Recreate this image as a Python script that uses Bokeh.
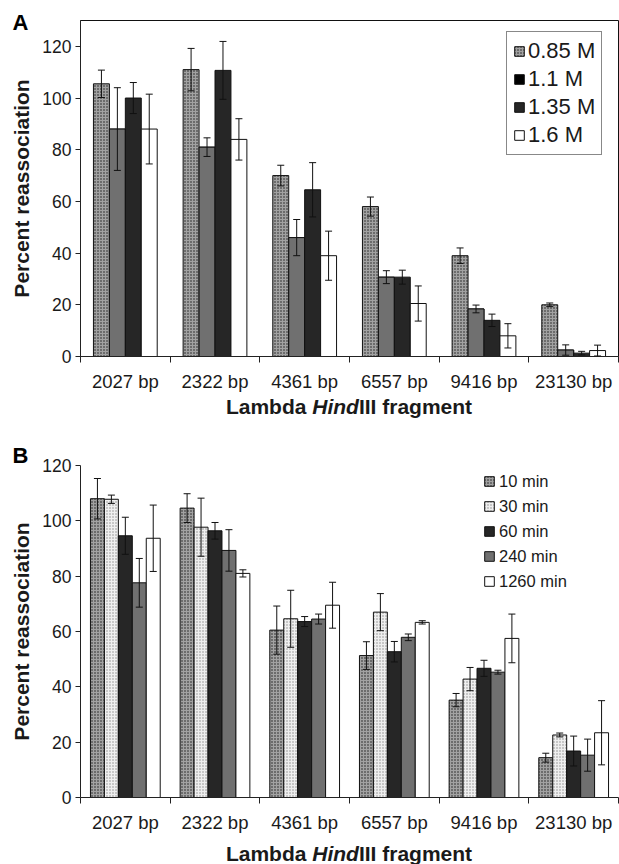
from bokeh.plotting import figure
from bokeh.models import (FactorRange, Range1d, LinearAxis, FixedTicker, ColumnDataSource,
                          Whisker, TeeHead, Legend, LegendItem, Div, Title)
from bokeh.transform import dodge
from bokeh.layouts import column
from bokeh.embed import file_html
from bokeh.resources import INLINE

# ---------------- data ----------------
fragments = ["2027 bp", "2322 bp", "4361 bp", "6557 bp", "9416 bp", "23130 bp"]

# Panel A: salt concentration
salt_labels = ["0.85 M", "1.1 M", "1.35 M", "1.6 M"]
salt_085 = [105.5, 111.0, 70.0, 58.0, 39.0, 20.0]
salt_085_err = [5.3, 8.2, 4.0, 3.7, 3.0, 0.7]
salt_110 = [88.0, 81.0, 46.0, 30.7, 18.4, 2.5]
salt_110_err = [16.0, 3.6, 7.0, 2.5, 1.5, 2.0]
salt_135 = [100.0, 110.7, 64.5, 30.7, 14.0, 1.3]
salt_135_err = [6.0, 11.2, 10.5, 2.7, 2.4, 0.7]
salt_160 = [88.0, 84.0, 39.0, 20.5, 8.0, 2.3]
salt_160_err = [13.5, 8.0, 9.5, 6.8, 4.7, 2.1]

# Panel B: incubation time
time_labels = ["10 min", "30 min", "60 min", "240 min", "1260 min"]
time_10 = [108.0, 104.6, 60.5, 51.3, 35.2, 14.4]
time_10_err = [7.3, 5.2, 8.7, 5.0, 2.4, 1.6]
time_30 = [107.8, 97.7, 64.6, 67.0, 42.8, 22.6]
time_30_err = [1.5, 10.5, 10.3, 6.7, 4.2, 0.7]
time_60 = [94.6, 96.4, 63.6, 52.7, 46.7, 16.8]
time_60_err = [6.7, 3.0, 1.8, 3.7, 2.9, 5.4]
time_240 = [77.6, 89.3, 64.5, 57.9, 45.3, 15.3]
time_240_err = [8.8, 7.5, 1.8, 1.2, 0.7, 5.8]
time_1260 = [93.7, 81.0, 69.5, 63.3, 57.5, 23.4]
time_1260_err = [12.0, 1.3, 8.3, 0.6, 8.8, 11.6]

y_ticks = [0, 20, 40, 60, 80, 100, 120]

FONT = "Liberation Sans"
TXT = "#1a1a1a"
W = 619
LEFT = 80
RIGHT = 1

CHECKER = dict(fill_color="#a2a2a2", hatch_pattern="dot", hatch_scale=3, hatch_weight=1, hatch_color="#1a1a1a")
LIGHTDOT = dict(fill_color="#efefef", hatch_pattern="dot", hatch_scale=3, hatch_weight=1, hatch_color="#8c8c8c")
GRAY = dict(fill_color="#707070")
DARK = dict(fill_color="#262626")
WHITE = dict(fill_color="white")
BLACK = dict(fill_color="black")


def base_fig(height, top, bottom, ymax):
    p = figure(width=W, height=height,
               x_range=FactorRange(factors=fragments, range_padding=0, factor_padding=0),
               y_range=Range1d(0, ymax), x_axis_type=None,
               output_backend="svg", toolbar_location=None,
               min_border_left=LEFT, min_border_right=RIGHT,
               min_border_top=top, min_border_bottom=bottom)
    p.background_fill_color = "white"
    p.border_fill_color = "white"
    p.xgrid.visible = False
    ya = p.yaxis[0]
    ya.ticker = FixedTicker(ticks=y_ticks)
    ya.axis_label = "Percent reassociation"
    ya.axis_label_text_font = FONT
    ya.axis_label_text_font_size = "21px"
    ya.axis_label_text_font_style = "bold"
    ya.axis_label_text_color = TXT
    ya.axis_label_standoff = 6
    ya.major_label_text_font = FONT
    ya.major_label_text_font_size = "17.5px"
    ya.major_label_text_color = TXT
    ya.major_label_standoff = 4
    ya.major_tick_out = 5
    ya.major_tick_in = 0
    ya.minor_tick_out = 0
    ya.minor_tick_in = 0
    ya.axis_line_color = "#222222"
    ya.major_tick_line_color = "#222222"
    # x axis: labels at category centres, ticks at category boundaries
    xa = LinearAxis(ticker=FixedTicker(ticks=[i + 0.5 for i in range(len(fragments))],
                                       minor_ticks=list(range(len(fragments) + 1))),
                    major_label_overrides={i + 0.5: f for i, f in enumerate(fragments)})
    xa.major_tick_out = 0
    xa.major_tick_in = 0
    xa.minor_tick_out = 6
    xa.minor_tick_in = 0
    xa.major_label_text_font = FONT
    xa.major_label_text_font_size = "18.5px"
    xa.major_label_text_color = TXT
    xa.major_label_standoff = 8
    xa.axis_line_color = "#222222"
    xa.minor_tick_line_color = "#222222"
    p.add_layout(xa, "below")
    return p


def xtitle_div(height, pad_top):
    html = ('<div style="margin-left:%dpx;width:%dpx;padding-top:%dpx;text-align:center;'
            'font-family:\'Liberation Sans\',Arial,sans-serif;font-size:21px;font-weight:bold;'
            'line-height:22px;color:%s;white-space:nowrap">'
            'Lambda <i>Hind</i>III fragment</div>') % (LEFT, W - LEFT - RIGHT, pad_top, TXT)
    return Div(text=html, width=W, height=height, margin=0)


def add_series(p, vals, errs, off, width, style, whiskers=True):
    src = ColumnDataSource(dict(frag=fragments, val=vals,
                                up=[v + e for v, e in zip(vals, errs)],
                                lo=[v - e for v, e in zip(vals, errs)]))
    r = p.vbar(x=dodge("frag", off, range=p.x_range), top="val", width=width, source=src,
               line_color="#111111", line_width=1, **style)
    if whiskers:
        wh = Whisker(base=dodge("frag", off, range=p.x_range), upper="up", lower="lo", source=src,
                     line_color="#111111", line_width=1, level="overlay",
                     upper_head=TeeHead(size=7, line_color="#111111", line_width=1),
                     lower_head=TeeHead(size=7, line_color="#111111", line_width=1))
        p.add_layout(wh)
    return r


def letter(txt, standoff):
    return Title(text=txt, align="left", offset=12 - LEFT, standoff=standoff,
                 text_font=FONT, text_font_size="22px", text_font_style="bold",
                 text_color="black")


# ---------------- Panel A ----------------
pA = base_fig(396, 20, 40, 130)
pA.outline_line_color = "#111111"
pA.outline_line_width = 1
pA.ygrid.visible = False
wA = 16 / 90
offsA = [-1.5 * wA, -0.5 * wA, 0.5 * wA, 1.5 * wA]
# the legend swatch for 1.1 M is black in the original; its bars are drawn grey on top
r_black = add_series(pA, salt_110, salt_110_err, offsA[1], wA, BLACK, whiskers=False)
rA = []
for vals, errs, off, st in zip([salt_085, salt_110, salt_135, salt_160],
                               [salt_085_err, salt_110_err, salt_135_err, salt_160_err],
                               offsA, [CHECKER, GRAY, DARK, WHITE]):
    rA.append(add_series(pA, vals, errs, off, wA, st))
legA = Legend(items=[LegendItem(label=salt_labels[0], renderers=[rA[0]]),
                     LegendItem(label=salt_labels[1], renderers=[r_black]),
                     LegendItem(label=salt_labels[2], renderers=[rA[2]]),
                     LegendItem(label=salt_labels[3], renderers=[rA[3]])],
              location=(426, 201), orientation="vertical",
              label_text_font=FONT, label_text_font_size="22px", label_text_color=TXT,
              glyph_width=12, glyph_height=12, label_height=25, label_standoff=3,
              spacing=2, padding=6, margin=0,
              border_line_color="#111111", border_line_width=1,
              background_fill_color="white", background_fill_alpha=1)
pA.add_layout(legA)
pA.add_layout(letter("A", -29), "above")

# ---------------- Panel B ----------------
pB = base_fig(407, 37, 36, 120)
pB.outline_line_color = None
pB.ygrid.ticker = FixedTicker(ticks=[120])
pB.ygrid.grid_line_color = "#6a6a6a"
pB.ygrid.grid_line_width = 2
wB = 14 / 90
offsB = [-2 * wB, -wB, 0, wB, 2 * wB]
rB = []
for vals, errs, off, st in zip([time_10, time_30, time_60, time_240, time_1260],
                               [time_10_err, time_30_err, time_60_err, time_240_err, time_1260_err],
                               offsB, [CHECKER, LIGHTDOT, DARK, GRAY, WHITE]):
    rB.append(add_series(pB, vals, errs, off, wB, st))
legB = Legend(items=[LegendItem(label=l, renderers=[r]) for l, r in zip(time_labels, rB)],
              location=(403, 206), orientation="vertical",
              label_text_font=FONT, label_text_font_size="16.5px", label_text_color=TXT,
              glyph_width=12, glyph_height=12, label_height=20, label_standoff=4,
              spacing=5, padding=0, margin=0,
              border_line_color=None, background_fill_alpha=0)
pB.add_layout(legB)
pB.add_layout(letter("B", -5), "above")

layout = column(pA, xtitle_div(32, 0), pB, xtitle_div(27, 8), spacing=0)
open("out.html", "w").write(file_html(layout, INLINE))
